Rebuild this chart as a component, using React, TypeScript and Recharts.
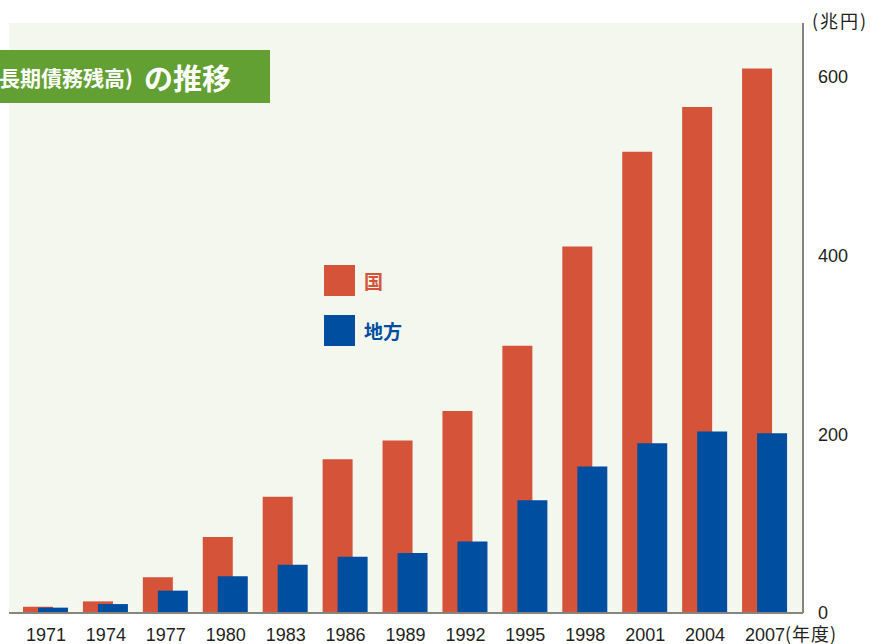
import React from 'react';
import { BarChart, Bar, XAxis, YAxis, CartesianGrid, Legend } from 'recharts';

// 年度
const years = ['1971', '1974', '1977', '1980', '1983', '1986', '1989', '1992', '1995', '1998', '2001', '2004', '2007'];
// 長期債務残高（兆円）
const kuni = [7, 13, 40, 85, 130, 172, 193, 226, 299, 410, 516, 566, 609];
const chiho = [6, 10, 25, 41, 54, 63, 67, 80, 126, 164, 190, 203, 201];
const yTicks = [0, 200, 400, 600];

const RED = '#d55339';
const BLUE = '#004ea0';
const GREEN = '#63a033';
const BG = '#f4f7ee';
const AXIS = '#86867e';
const JP = '"Noto Sans CJK JP", "Noto Sans", sans-serif';
const NUM = '"Liberation Sans", Arial, sans-serif';

const chartData = years.map((year, i) => ({ year, kuni: kuni[i], chiho: chiho[i] }));

// legend: squares with coloured labels
const LegendBox = ({ payload }: any) => (
  <div>
    {(payload || []).map((p: any) => (
      <div key={p.value} style={{ display: 'flex', alignItems: 'center', height: 31, marginBottom: 19 }}>
        <div style={{ width: 31, height: 31, background: p.color }} />
        <span style={{ marginLeft: 9, color: p.color, fontFamily: JP, fontWeight: 700, fontSize: 19 }}>
          {p.value}
        </span>
      </div>
    ))}
  </div>
);

export default function App() {
  return (
    <div style={{ position: 'absolute', left: 0, top: 0, width: 883, height: 644, background: '#fff', overflow: 'hidden' }}>
      <BarChart
        width={883}
        height={644}
        data={chartData}
        margin={{ top: 23, left: 9, right: 0, bottom: 0 }}
        barSize={30}
        barGap={-15}
      >
        <CartesianGrid horizontal={false} vertical={false} fill={BG} />
        <XAxis
          dataKey="year"
          height={31}
          padding={{ left: 7, right: 8 }}
          tickLine={false}
          tickSize={0}
          tickMargin={15}
          axisLine={{ stroke: AXIS, strokeWidth: 2 }}
          tick={{ fill: '#231f20', fontSize: 18, fontFamily: NUM }}
          interval={0}
        />
        <YAxis
          orientation="right"
          width={80}
          domain={[0, 660]}
          ticks={yTicks}
          tickLine={false}
          tickSize={0}
          tickMargin={15}
          axisLine={{ stroke: AXIS, strokeWidth: 2 }}
          tick={{ fill: '#231f20', fontSize: 18, fontFamily: NUM, textAnchor: 'start' }}
        />
        <Legend
          layout="vertical"
          verticalAlign="middle"
          align="center"
          content={<LegendBox />}
          wrapperStyle={{ position: 'absolute', left: 324, top: 265, width: 120 }}
        />
        <Bar dataKey="kuni" name="国" fill={RED} isAnimationActive={false} />
        <Bar dataKey="chiho" name="地方" fill={BLUE} isAnimationActive={false} />
      </BarChart>

      {/* title box, cut at the left edge */}
      <div
        style={{
          position: 'absolute', left: 0, top: 50, width: 270, height: 53, background: GREEN,
          overflow: 'hidden', whiteSpace: 'nowrap', fontFamily: JP, fontWeight: 700, color: '#fff',
        }}
      >
        <div style={{ position: 'absolute', left: -1, top: 0, height: 53, display: 'flex', alignItems: 'center' }}>
          <span style={{ fontSize: 21 }}>長期債務残高)</span>
          <span style={{ fontSize: 29, marginLeft: 11 }}>の推移</span>
        </div>
      </div>

      <div style={{ position: 'absolute', left: 812, top: 7, fontFamily: JP, fontSize: 18, letterSpacing: 2, color: '#231f20' }}>(兆円)</div>
      <div style={{ position: 'absolute', left: 785, top: 621, fontFamily: JP, fontSize: 18, letterSpacing: 1, color: '#231f20', lineHeight: '24px' }}>
        (年度)
      </div>
    </div>
  );
}
